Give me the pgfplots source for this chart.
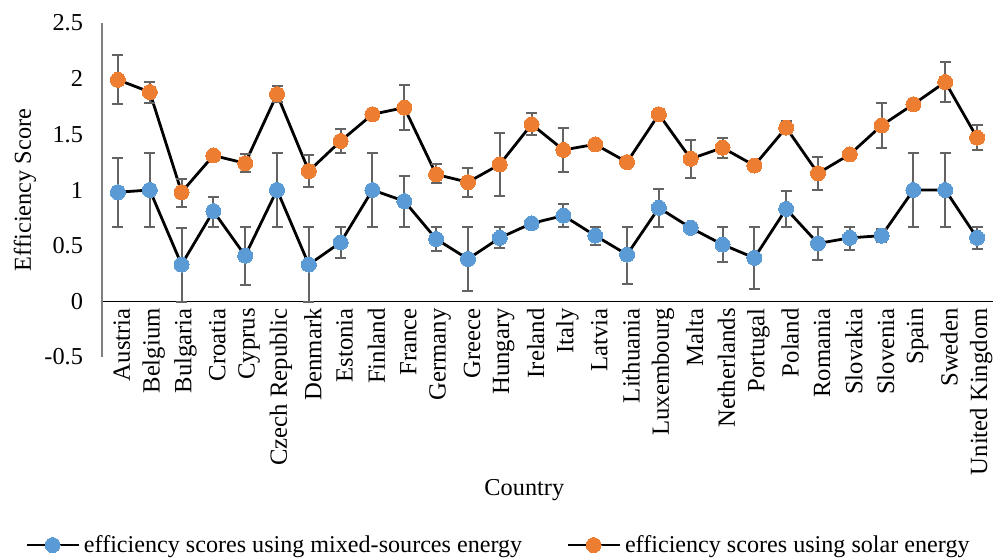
\documentclass[border=0pt]{standalone}
\usepackage{pgfplots}
\pgfplotsset{compat=1.18}
\usepackage{pgfplotstable}
\usepackage{fontspec}
\setmainfont{Liberation Serif}
\definecolor{cblue}{HTML}{5B9BD5}
\definecolor{corange}{HTML}{ED7D31}
\definecolor{errgray}{HTML}{636363}

\pgfplotstableread{
x y ep em
0 0.98 0.31 0.31
1 1.00 0.33 0.33
2 0.33 0.33 0.34
3 0.81 0.13 0.14
4 0.41 0.26 0.26
5 1.00 0.33 0.33
6 0.33 0.34 0.34
7 0.53 0.14 0.14
8 1.00 0.33 0.33
9 0.90 0.23 0.23
10 0.56 0.11 0.11
11 0.38 0.29 0.29
12 0.57 0.10 0.09
13 0.70 0.00 0.00
14 0.77 0.10 0.10
15 0.59 0.08 0.08
16 0.42 0.25 0.26
17 0.84 0.17 0.17
18 0.66 0.00 0.00
19 0.51 0.16 0.16
20 0.39 0.28 0.28
21 0.83 0.16 0.16
22 0.52 0.15 0.15
23 0.57 0.10 0.11
24 0.59 0.06 0.06
25 1.00 0.33 0.33
26 1.00 0.33 0.33
27 0.57 0.10 0.10
}\mixed

\pgfplotstableread{
x y ep em
0 1.99 0.22 0.22
1 1.88 0.09 0.10
2 0.98 0.12 0.13
3 1.31 0.00 0.00
4 1.24 0.08 0.08
5 1.86 0.07 0.07
6 1.17 0.14 0.14
7 1.44 0.11 0.11
8 1.68 0.02 0.02
9 1.74 0.20 0.20
10 1.14 0.09 0.08
11 1.07 0.13 0.13
12 1.23 0.28 0.28
13 1.59 0.10 0.10
14 1.36 0.20 0.20
15 1.41 0.00 0.00
16 1.25 0.00 0.00
17 1.68 0.05 0.05
18 1.28 0.17 0.17
19 1.38 0.09 0.09
20 1.22 0.00 0.00
21 1.56 0.06 0.06
22 1.15 0.15 0.15
23 1.32 0.00 0.00
24 1.58 0.20 0.20
25 1.77 0.00 0.00
26 1.97 0.18 0.18
27 1.47 0.11 0.11
}\solar

\begin{document}
\begin{tikzpicture}
\path[use as bounding box] (0,0) rectangle (496.5bp,279bp);
\begin{axis}[
  at={(51bp,100.5bp)}, anchor=south west,
  scale only axis, width=445.5bp, height=167bp,
  xmin=-0.5, xmax=27.5, ymin=-0.5, ymax=2.5,
  axis y line=left, axis x line=middle,
  x axis line style={-, black, line width=0.6bp},
  y axis line style={-, black!50, line width=0.6bp},
  major tick length=0pt,
  xtick={0,...,27},
  xticklabels={Austria,Belgium,Bulgaria,Croatia,Cyprus,Czech Republic,Denmark,Estonia,Finland,France,Germany,Greece,Hungary,Ireland,Italy,Latvia,Lithuania,Luxembourg,Malta,Netherlands,Portugal,Poland,Romania,Slovakia,Slovenia,Spain,Sweden,United Kingdom},
  xticklabel style={rotate=90, anchor=east, font=\fontsize{12.4}{14}\selectfont, yshift=-2bp},
  ytick={-0.5,0,0.5,1,1.5,2,2.5},
  yticklabels={-0.5,0,0.5,1,1.5,2,2.5},
  yticklabel style={font=\fontsize{12.2}{14}\selectfont, xshift=-6bp},
  xlabel={Country},
  xlabel style={at={(axis description cs:0.474,-0.398)}, anchor=center, font=\fontsize{12.2}{14}\selectfont},
  ylabel={Efficiency Score},
  ylabel style={at={(axis description cs:-0.0864,0.5)}, anchor=center, font=\fontsize{12.2}{14}\selectfont},
  clip=false,
  legend columns=2,
  legend style={at={(axis description cs:0.446,-0.563)}, anchor=center, draw=none, fill=none,
    font=\fontsize{12.1}{14}\selectfont, /tikz/every even column/.append style={column sep=20bp},
    inner sep=0pt},
  legend image code/.code={\draw[mark repeat=2,mark phase=2,#1] plot coordinates {(0bp,0bp) (13bp,0bp) (26bp,0bp)};},
]
\addplot[black, line width=1.4bp, mark=*, mark size=3.75bp,
  mark options={fill=cblue, draw=cblue, line width=0pt},
  error bars/.cd, y dir=both, y explicit,
  error bar style={errgray, line width=1bp},
  error mark options={errgray, rotate=90, mark size=2.75bp, line width=1bp}]
  table[x=x, y=y, y error plus=ep, y error minus=em]{\mixed};
\addlegendentry{efficiency scores using mixed-sources energy}
\addplot[black, line width=1.4bp, mark=*, mark size=3.75bp,
  mark options={fill=corange, draw=corange, line width=0pt},
  error bars/.cd, y dir=both, y explicit,
  error bar style={errgray, line width=1bp},
  error mark options={errgray, rotate=90, mark size=2.75bp, line width=1bp}]
  table[x=x, y=y, y error plus=ep, y error minus=em]{\solar};
\addlegendentry{efficiency scores using solar energy}
\end{axis}
\end{tikzpicture}
\end{document}
